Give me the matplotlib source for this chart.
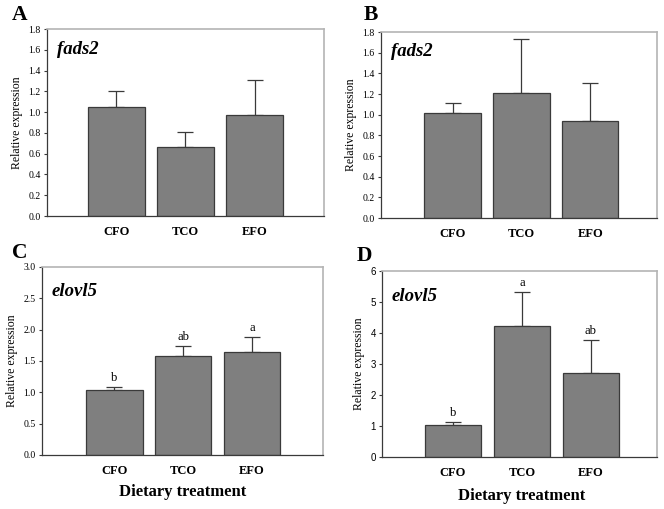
import matplotlib.pyplot as plt

groups = ["CFO", "TCO", "EFO"]

fads2_a = [1.05, 0.66, 0.97]
fads2_a_err = [0.15, 0.15, 0.34]

fads2_b = [1.02, 1.21, 0.94]
fads2_b_err = [0.09, 0.52, 0.37]

elovl5_c = [1.03, 1.58, 1.65]
elovl5_c_err = [0.05, 0.16, 0.23]
elovl5_c_sig = ["b", "ab", "a"]

elovl5_d = [1.03, 4.22, 2.70]
elovl5_d_err = [0.10, 1.10, 1.07]
elovl5_d_sig = ["b", "a", "ab"]

SERIF = "Liberation Serif"
SANS = "Liberation Sans"
BAR = "#7f7f7f"
DARK = "#3a3a3a"
LIGHT = "#b4b4b4"

fig = plt.figure(figsize=(6.64, 5.09), dpi=100)


def panel(rect, vals, errs, gene, ymax, ystep, fmt, tick_font, xlim, sig=None,
          gene_y=0.95):
    ax = fig.add_axes(rect)
    x = [1, 2, 3]
    ax.bar(x, vals, width=0.82, color=BAR, edgecolor=DARK, linewidth=0.9,
           zorder=2)
    ax.errorbar(x, vals, yerr=[[0] * 3, errs], fmt="none", ecolor=DARK,
                elinewidth=0.9, capsize=5.5, capthick=0.9, zorder=1)
    if sig is not None:
        for xi, v, e, s in zip(x, vals, errs, sig):
            ax.text(xi, v + e + ymax * 0.015, s, ha="center", va="bottom",
                    fontsize=9, family=SERIF)
    ax.set_xlim(*xlim)
    ax.set_ylim(0, ymax)
    ticks = [i * ystep for i in range(int(round(ymax / ystep)) + 1)]
    ax.set_yticks(ticks)
    ax.set_yticklabels([fmt.format(t) for t in ticks], family=tick_font,
                       fontsize=7)
    ax.set_xticks(x)
    ax.set_xticklabels(groups, family=SERIF, fontweight="bold", fontsize=9)
    ax.tick_params(axis="x", length=0, pad=7)
    ax.tick_params(axis="y", length=2.5, width=0.8, color=DARK, pad=2)
    ax.set_ylabel("Relative expression", family=SERIF, fontsize=8.5,
                  labelpad=4)
    for side in ["top", "right"]:
        ax.spines[side].set_color(LIGHT)
        ax.spines[side].set_linewidth(1.2)
    for side in ["left", "bottom"]:
        ax.spines[side].set_color(DARK)
        ax.spines[side].set_linewidth(0.9)
    ax.text(0.035, gene_y, gene, transform=ax.transAxes, ha="left", va="top",
            family=SERIF, fontweight="bold", style="italic", fontsize=13.5)
    return ax


panel([0.0708, 0.5756, 0.417, 0.3674], fads2_a, fads2_a_err, "fads2",
      1.8, 0.2, "{:.1f}", SERIF, (0, 4), gene_y=0.935)
panel([0.5738, 0.5717, 0.4157, 0.3654], fads2_b, fads2_b_err, "fads2",
      1.8, 0.2, "{:.1f}", SERIF, (-0.04, 3.97), gene_y=0.94)
panel([0.0633, 0.1061, 0.4232, 0.3694], elovl5_c, elovl5_c_err,
      "elovl5", 3.0, 0.5, "{:.1f}", SERIF, (-0.05, 4.03),
      sig=elovl5_c_sig, gene_y=0.915)
panel([0.5753, 0.1022, 0.4142, 0.3654], elovl5_d, elovl5_d_err,
      "elovl5", 6, 1, "{:.0f}", SANS, (-0.03, 3.96),
      sig=elovl5_d_sig, gene_y=0.91)

for lbl, fx, fy in [("A", 0.018, 0.961), ("B", 0.548, 0.961),
                    ("C", 0.018, 0.493), ("D", 0.537, 0.487)]:
    fig.text(fx, fy, lbl, family=SERIF, fontweight="bold", fontsize=15.5,
             ha="left", va="baseline")

fig.text(183 / 664, 1 - 492 / 509, "Dietary treatment", family=SERIF,
         fontweight="bold", fontsize=12, ha="center", va="center")
fig.text(522 / 664, 1 - 496 / 509, "Dietary treatment", family=SERIF,
         fontweight="bold", fontsize=12, ha="center", va="center")

fig.savefig("out.png", dpi=100)
